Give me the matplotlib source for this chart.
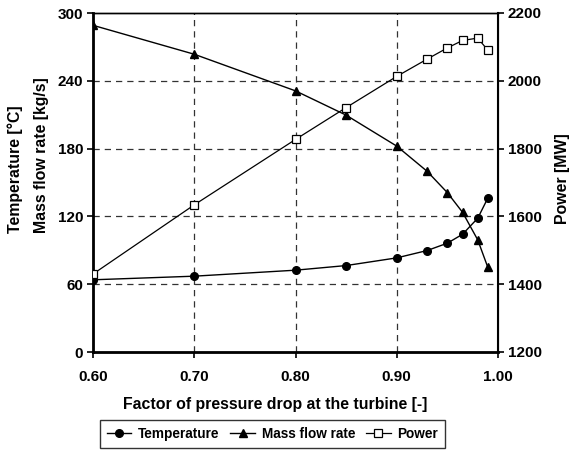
import matplotlib
matplotlib.use("Agg")
import matplotlib.pyplot as plt
from matplotlib.lines import Line2D

plt.rcParams['font.family'] = ['Liberation Sans', 'DejaVu Sans']
plt.rcParams['font.weight'] = 'bold'

factor = [0.60, 0.70, 0.80, 0.85, 0.90, 0.93, 0.95, 0.965, 0.98, 0.99]
temperature = [63.9, 67.1, 72.4, 76.5, 83.3, 89.8, 96.3, 104.2, 118.4, 136.3]
mass_flow = [289.1, 263.5, 231.1, 209.6, 182.2, 159.9, 141.0, 123.6, 99.2, 74.8]
power = [1430, 1634, 1827, 1921, 2013, 2064, 2097, 2119, 2126, 2090]

x_ticks = [0.60, 0.70, 0.80, 0.90, 1.00]
left_ticks = [0, 60, 120, 180, 240, 300]
right_ticks = [1200, 1400, 1600, 1800, 2000, 2200]

W, H = 570, 450
fig = plt.figure(figsize=(5.7, 4.5), dpi=100)
ax = fig.add_axes([93 / W, 1 - 352 / H, (498 - 93) / W, (352 - 13) / H])
ax2 = ax.twinx()

ax.set_xlim(0.60, 1.00)
ax.set_ylim(0, 300)
ax2.set_ylim(1200, 2200)

for v in [0.70, 0.80, 0.90]:
    ax.axvline(v, color='#333333', lw=0.9, ls=(0, (5, 4)), zorder=1)
for v in [60, 120, 180, 240]:
    ax.axhline(v, color='#333333', lw=0.9, ls=(0, (5, 4)), zorder=1)

ax.plot(factor, temperature, color='black', lw=1.0, marker='o', ms=5.5, zorder=3)
ax.plot(factor, mass_flow, color='black', lw=1.0, marker='^', ms=5.8, zorder=3)
ax2.plot(factor, power, color='black', lw=0.9, marker='s', ms=5.5,
         mfc='white', mec='black', mew=0.9, zorder=3)

ax.set_xticks(x_ticks)
ax.set_xticklabels([f"{v:.2f}" for v in x_ticks])
ax.set_yticks(left_ticks)
ax2.set_yticks(right_ticks)

for a in (ax, ax2):
    a.tick_params(direction='out', length=4, width=1.2, labelsize=11, pad=3)
    for lbl in a.get_xticklabels() + a.get_yticklabels():
        lbl.set_fontweight('bold')
ax.tick_params(axis='x', pad=9)

ax.spines['left'].set_linewidth(2.0)
ax.spines['bottom'].set_linewidth(2.0)
ax2.spines['right'].set_linewidth(1.5)
ax.spines['top'].set_linewidth(1.0)
ax2.spines['top'].set_linewidth(1.0)

fig.text(275 / W, 1 - 404 / H, "Factor of pressure drop at the turbine [-]",
         fontsize=11.4, fontweight='bold', ha='center', va='center')
fig.text(15 / W, 1 - 233 / H, "Temperature [°C]", fontsize=11.4, fontweight='bold',
         rotation=90, rotation_mode='anchor', ha='left', va='center')
fig.text(42 / W, 1 - 233 / H, "Mass flow rate [kg/s]", fontsize=11.4, fontweight='bold',
         rotation=90, rotation_mode='anchor', ha='left', va='center')
fig.text(562 / W, 1 - 179 / H, "Power [MW]", fontsize=11.4, fontweight='bold',
         rotation=90, ha='center', va='center')

handles = [
    Line2D([], [], color='black', lw=1.0, marker='o', ms=5.5),
    Line2D([], [], color='black', lw=1.0, marker='^', ms=5.5),
    Line2D([], [], color='black', lw=0.9, marker='s', ms=5.5, mfc='white', mec='black', mew=0.9),
]
leg = fig.legend(handles, ["Temperature", "Mass flow rate", "Power"], loc='center',
                 bbox_to_anchor=(272.5 / W, 1 - 434 / H), ncol=3, frameon=True, fancybox=False,
                 edgecolor='black', handlelength=1.8, handletextpad=0.5,
                 columnspacing=0.8, borderpad=0.5, prop={'weight': 'bold', 'size': 9.8})
leg.get_frame().set_linewidth(1.0)

fig.savefig("out.png", dpi=100)
